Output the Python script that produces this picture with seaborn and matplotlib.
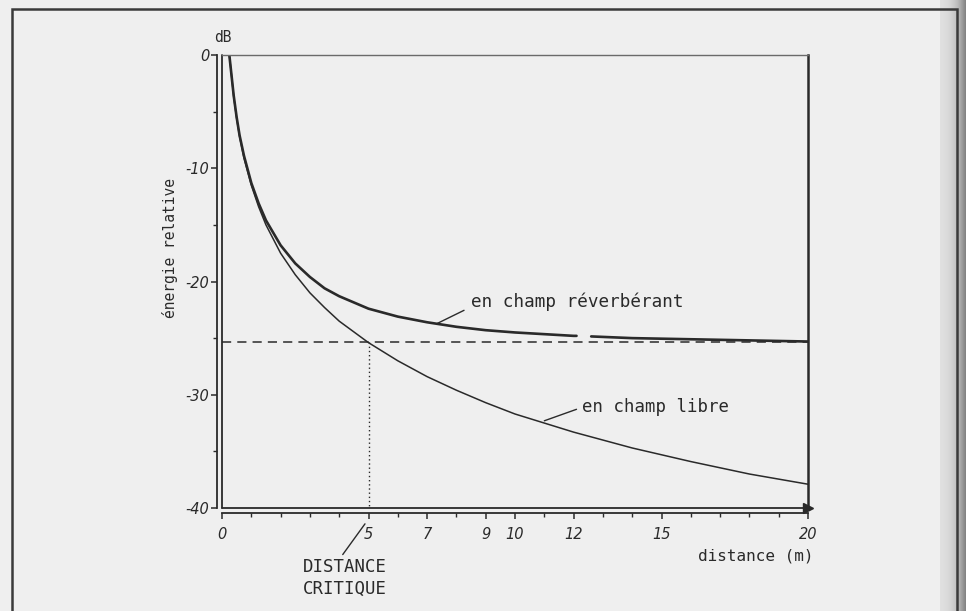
import numpy as np
import pandas as pd
import matplotlib
matplotlib.use("Agg")
import matplotlib.pyplot as plt
import seaborn as sns
from matplotlib.ticker import FixedLocator, MultipleLocator
from matplotlib.patches import Rectangle

# Sound level relative to the source versus distance
distance_m = [0.25, 0.3, 0.4, 0.5, 0.6, 0.75, 1.0, 1.25, 1.5, 2.0, 2.5, 3.0,
              3.5, 4.0, 5.0, 6.0, 7.0, 8.0, 9.0, 10.0, 12.0, 14.0, 16.0,
              18.0, 20.0]
free_field_db = [0.0, -1.2, -3.7, -5.6, -7.2, -9.1, -11.5, -13.4, -15.0,
                 -17.5, -19.4, -21.0, -22.3, -23.5, -25.4, -27.0, -28.4,
                 -29.6, -30.7, -31.7, -33.3, -34.7, -35.9, -37.0, -37.9]
reverberant_db = [0.0, -1.2, -3.6, -5.5, -7.1, -8.9, -11.3, -13.1, -14.6,
                  -16.8, -18.4, -19.6, -20.6, -21.3, -22.4, -23.1, -23.6,
                  -24.0, -24.3, -24.5, -24.8, -25.0, -25.1, -25.2, -25.3]

reverb_level_db = -25.3
critical_distance_m = 5.0
# short break in the printed reverberant curve
reverb_break = (12.1, 12.6)

x_ticks = [0, 5, 7, 9, 10, 12, 15, 20]
x_tick_labels = ["0", "5", "7", "9", "10", "12", "15", "20"]
y_ticks = [0, -10, -20, -30, -40]
y_tick_labels = ["0", "-10", "-20", "-30", "-40"]

free_df = pd.DataFrame({"distance": distance_m, "level": free_field_db})
rev_df = pd.DataFrame({"distance": distance_m, "level": reverberant_db})
rev_a = pd.concat([rev_df[rev_df.distance <= reverb_break[0]],
                   pd.DataFrame({"distance": [reverb_break[0]], "level": [-24.8]})])
rev_b = pd.concat([pd.DataFrame({"distance": [reverb_break[1]], "level": [-24.85]}),
                   rev_df[rev_df.distance >= reverb_break[1]]])

sns.set_theme(style="white")
plt.rcParams["font.family"] = ["DejaVu Sans"]

paper = "#efefef"
ink = "#2a2a2a"
lettering = "DejaVu Sans Mono"

W, H = 966, 611
fig = plt.figure(figsize=(W / 100, H / 100), dpi=100, facecolor=paper)
ax = fig.add_axes([222 / W, 1 - 508 / H, (808 - 222) / W, (508 - 55) / H])
ax.set_facecolor(paper)

sns.lineplot(data=free_df, x="distance", y="level", ax=ax, color=ink,
             linewidth=1.1, estimator=None, sort=True)
for part in (rev_a, rev_b):
    sns.lineplot(data=part, x="distance", y="level", ax=ax, color=ink,
                 linewidth=1.9, estimator=None, sort=True)

ax.axhline(reverb_level_db, color=ink, linewidth=1.1, dashes=(6, 4))
ax.plot([critical_distance_m, critical_distance_m], [reverb_level_db, -40],
        color=ink, linewidth=1.0, linestyle=(0, (1, 2.0)))

ax.set_xlim(0, 20)
ax.set_ylim(-40, 0)

# double-ruled axes on the left and bottom
ax.axvline(0, color=ink, linewidth=1.3, clip_on=False)
ax.axhline(-40, color=ink, linewidth=1.3, clip_on=False)
for side in ("left", "bottom"):
    ax.spines[side].set_position(("outward", 3.5))
    ax.spines[side].set_color(ink)
    ax.spines[side].set_linewidth(1.3)
ax.spines["top"].set_color("#6a6a6a")
ax.spines["top"].set_linewidth(1.0)
ax.spines["right"].set_color(ink)
ax.spines["right"].set_linewidth(1.8)
ax.plot([20], [-40], marker=">", markersize=7, color=ink, clip_on=False)

ax.xaxis.set_major_locator(FixedLocator(x_ticks))
ax.xaxis.set_minor_locator(MultipleLocator(1))
ax.set_xticklabels(x_tick_labels)
ax.yaxis.set_major_locator(FixedLocator(y_ticks))
ax.yaxis.set_minor_locator(MultipleLocator(5))
ax.set_yticklabels(y_tick_labels)
ax.tick_params(axis="both", which="major", direction="out", length=4,
               width=1.1, color=ink, labelsize=10.5, labelcolor=ink)
ax.tick_params(axis="both", which="minor", direction="out", length=3,
               width=1.0, color=ink)
ax.tick_params(axis="x", which="major", pad=6)
ax.tick_params(axis="y", which="major", pad=1.5)
ax.tick_params(axis="x", which="both", bottom=True)
ax.tick_params(axis="y", which="both", left=True)
for lab in ax.get_xticklabels() + ax.get_yticklabels():
    lab.set_fontstyle("italic")

ax.set_xlabel("")
ax.set_ylabel("")

# axis captions
fig.text(223 / W, 1 - 37 / H, "dB", ha="center", va="center", fontsize=10.5,
         color=ink, family=lettering)
fig.text(170 / W, 1 - 248 / H, "énergie relative", rotation=90, ha="center",
         va="center", fontsize=10.5, color=ink, family=lettering)
fig.text(756 / W, 1 - 556 / H, "distance (m)", ha="center", va="center",
         fontsize=11.5, color=ink, family=lettering)

# curve labels with leader lines
ax.annotate("en champ réverbérant", xy=(7.35, -23.7), xytext=(8.5, -21.75),
            fontsize=12.7, color=ink, va="center", ha="left",
            family=lettering,
            arrowprops=dict(arrowstyle="-", color=ink, lw=1.0,
                            shrinkA=3, shrinkB=0, relpos=(0.0, 0.2)))
ax.annotate("en champ libre", xy=(11.0, -32.3), xytext=(12.3, -31.1),
            fontsize=12.5, color=ink, va="center", ha="left",
            family=lettering,
            arrowprops=dict(arrowstyle="-", color=ink, lw=1.0,
                            shrinkA=2, shrinkB=0, relpos=(0.0, 0.5)))
ax.annotate("DISTANCE\nCRITIQUE", xy=(critical_distance_m - 0.12, -41.4),
            xytext=(2.75, -44.4), fontsize=12.5, color=ink, va="top",
            ha="left", linespacing=1.3, annotation_clip=False,
            family=lettering,
            arrowprops=dict(arrowstyle="-", color=ink, lw=1.0,
                            shrinkA=0, shrinkB=0, relpos=(0.45, 1.0)))

# page frame
fig.patches.append(Rectangle((12 / W, -0.05), (957 - 12) / W, 1.05 - 9 / H,
                             transform=fig.transFigure, fill=False,
                             edgecolor="#3a3a3a", linewidth=1.8))

# shading along the right page edge
shade = fig.add_axes([940 / W, 0, 26 / W, 1])
grad = np.linspace(0, 1, 64) ** 2
shade.imshow(grad[None, :], aspect="auto", cmap="Greys", vmin=-0.6, vmax=2.2,
             extent=(0, 1, 0, 1))
shade.set_axis_off()

fig.savefig("out.png", dpi=100, facecolor=paper)
